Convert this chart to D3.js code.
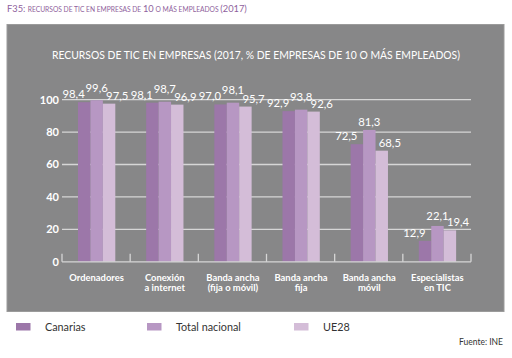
<!DOCTYPE html>
<html><head><meta charset="utf-8">
<script src="https://cdn.jsdelivr.net/npm/d3@7"></script>
<style>html,body{margin:0;padding:0;background:#fff;}svg{display:block;}</style>
</head><body>
<svg id="c" width="512" height="358"></svg>
<script>
const categories = [["Ordenadores"],["Conexión","a internet"],["Banda ancha","(fija o móvil)"],["Banda ancha","fija"],["Banda ancha","móvil"],["Especialistas","en TIC"]];
const seriesNames = ["Canarias","Total nacional","UE28"];
const canarias = [98.4, 98.1, 97.0, 92.9, 72.5, 12.9];
const totalNacional = [99.6, 98.7, 98.1, 93.8, 81.3, 22.1];
const ue28 = [97.5, 96.9, 95.7, 92.6, 68.5, 19.4];
const yTicks = [0, 20, 40, 60, 80, 100];
const colors = ["#9c77a9", "#b797c3", "#d4bdd8"];

const svg = d3.select("#c");
const F = "Lato, 'Open Sans', sans-serif";

// header
const hdr = svg.append("text").attr("x", 7).attr("y", 12).attr("fill", "#8f5f9d").attr("font-family", F).attr("font-size", 9.3);
hdr.append("tspan").text("F35: ");
hdr.append("tspan").attr("font-size", 6.7).text("RECURSOS DE TIC EN EMPRESAS DE ");
hdr.append("tspan").text("10");
hdr.append("tspan").attr("font-size", 6.7).text(" O MÁS EMPLEADOS ");
hdr.append("tspan").text("(2017)");

// panel
svg.append("rect").attr("x", 7).attr("y", 24.5).attr("width", 497).attr("height", 287).attr("fill", "#878788").attr("stroke", "#9b9b9b").attr("stroke-width", 1);

svg.append("text").attr("x", 256).attr("y", 59).attr("text-anchor", "middle").attr("fill", "#fff")
  .attr("font-family", F).attr("font-size", 11.5).attr("textLength", 408).attr("lengthAdjust", "spacingAndGlyphs")
  .text("RECURSOS DE TIC EN EMPRESAS (2017, % DE EMPRESAS DE 10 O MÁS EMPLEADOS)");

const cats = categories.map(c => c.join(" "));
const x0 = d3.scaleBand().domain(cats).range([62, 471]);
const x1 = d3.scaleBand().domain(seriesNames).range([16, 53.3]);
const y = d3.scaleLinear().domain([0, 100]).range([261.8, 99.6]);

// gridlines
svg.append("g").selectAll("line").data(yTicks.filter(t => t > 0)).join("line")
  .attr("x1", 62).attr("x2", 471).attr("y1", d => y(d)).attr("y2", d => y(d))
  .attr("stroke", "#d6d6d6").attr("stroke-width", 1.3);

// y labels
svg.append("g").selectAll("text").data(yTicks).join("text")
  .attr("x", 59).attr("y", d => y(d) + 4).attr("text-anchor", "end").attr("fill", "#fff")
  .attr("font-family", F).attr("font-weight", "bold").attr("font-size", 11).text(d => d);

// bars
const data = cats.map((c, i) => ({ cat: c, vals: [canarias[i], totalNacional[i], ue28[i]] }));
const g = svg.append("g").selectAll("g").data(data).join("g").attr("transform", d => `translate(${x0(d.cat)},0)`);
g.selectAll("rect").data(d => d.vals.map((v, j) => ({ v, s: seriesNames[j], j }))).join("rect")
  .attr("x", d => x1(d.s)).attr("width", x1.bandwidth()).attr("y", d => y(d.v)).attr("height", d => y(0) - y(d.v))
  .attr("fill", d => colors[d.j]);

// baseline axis and ticks
svg.append("line").attr("x1", 62).attr("x2", 471).attr("y1", y(0)).attr("y2", y(0)).attr("stroke", "#d6d6d6").attr("stroke-width", 1.3);
const bounds = cats.map(c => x0(c)).concat([x0.range()[1]]);
svg.append("g").selectAll("line").data(bounds).join("line")
  .attr("x1", d => d).attr("x2", d => d).attr("y1", y(0) - 8).attr("y2", y(0))
  .attr("stroke", "#d6d6d6").attr("stroke-width", 1.3);

// value labels
g.each(function(d) {
  const gg = d3.select(this);
  const base = d.vals.map(v => y(v) - 4);
  base[1] = Math.min(base[1], Math.min(base[0], base[2]) - 6);
  d.vals.forEach((v, j) => {
    const cx = x1(seriesNames[j]) + x1.bandwidth() / 2;
    gg.append("text")
      .attr("x", j === 0 ? cx + 0.5 : j === 1 ? cx : cx - 3)
      .attr("y", base[j])
      .attr("text-anchor", j === 0 ? "end" : j === 1 ? "middle" : "start")
      .attr("fill", "#fff").attr("font-family", F).attr("font-size", 11.3)
      .text(d3.format(".1f")(v).replace(".", ","));
  });
});

// category labels
svg.append("g").selectAll("text").data(categories).join("text")
  .attr("x", (d, i) => x0(cats[i]) + x0.bandwidth() / 2 + 0.5)
  .attr("y", 281).attr("text-anchor", "middle").attr("fill", "#fff")
  .attr("font-family", F).attr("font-weight", "bold").attr("font-size", 9.4)
  .each(function(d) {
    const t = d3.select(this);
    d.forEach((line, k) => t.append("tspan").attr("x", t.attr("x")).attr("dy", k === 0 ? 0 : 10).text(line));
  });

// legend
const legX = [16, 147, 294];
const lg = svg.append("g").selectAll("g").data(seriesNames).join("g").attr("transform", (d, i) => `translate(${legX[i]},323)`);
lg.append("rect").attr("width", 14.5).attr("height", 7.5).attr("fill", (d, i) => colors[i]);
lg.append("text").attr("x", 29).attr("y", 7.8).attr("fill", "#333").attr("font-family", F).attr("font-size", 10.8).text(d => d);

svg.append("text").attr("x", 503).attr("y", 345).attr("text-anchor", "end").attr("fill", "#333")
  .attr("font-family", F).attr("font-size", 8.5).text("Fuente: INE");
</script>
</body></html>
